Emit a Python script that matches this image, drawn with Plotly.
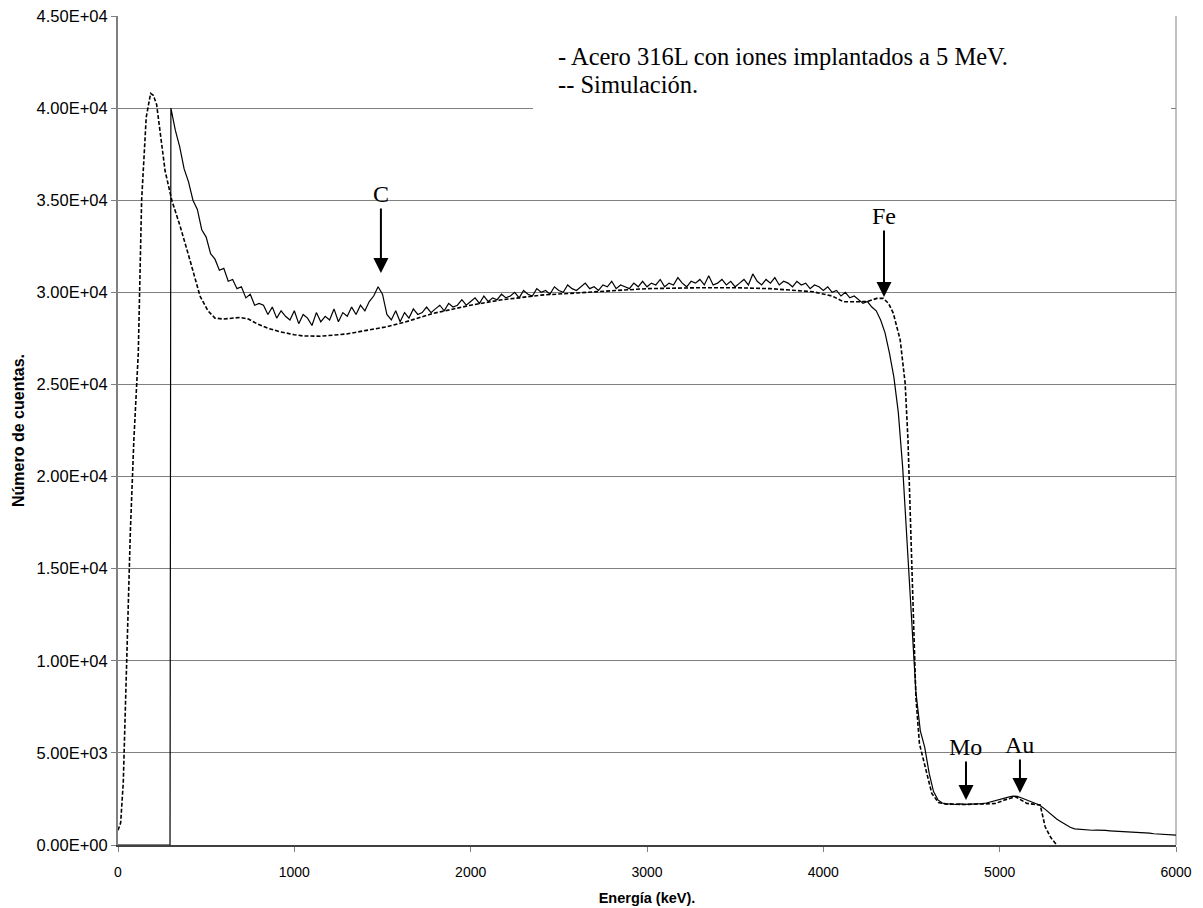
import plotly.graph_objects as go

# ---------------- data ----------------
# Experimental spectrum (solid): zero below threshold, then 25 keV channel grid
exp_head_E = [0, 295]
exp_head_C = [0, 0]
exp_E_start, exp_E_step = 300, 25
exp_counts = [
    # 300 - 500
    40000, 38800, 37900, 36700, 36000, 35000, 34500, 33400, 33000,
    # 525 - 800
    32100, 31800, 31200, 31300, 30600, 30700, 30200, 30300, 29700, 29900,
    29300, 29400,
    # 825 - 1300
    29300, 28800, 29200, 28600, 29000, 28700, 28500, 29000, 28300, 28800,
    28600, 28200, 28900, 28400, 28700, 28500, 29100, 28400, 28900, 28700,
    # 1325 - 1500
    29200, 28800, 29300, 29000, 29500, 29800, 30300, 29900,
    # 1525 - 2200
    28800, 28500, 29000, 28400, 28900, 28600, 29100, 28800, 28900, 29200,
    28900, 29100, 29300, 29000, 29400, 29200, 29300, 29600, 29300, 29500,
    29700, 29400, 29800, 29500, 29700, 29600, 29900, 29700,
    # 2225 - 3000
    29800, 30000, 29700, 30100, 29900, 29800, 30200, 30000, 30100, 29900,
    30300, 30100, 30000, 30400, 30200, 30100, 30300, 30500, 30200, 30300,
    30100, 30400, 30300, 30600, 30200, 30400, 30300, 30200, 30500, 30300,
    30600, 30300,
    # 3025 - 3800
    30500, 30400, 30700, 30300, 30500, 30400, 30800, 30500, 30300, 30600,
    30500, 30700, 30400, 30900, 30400, 30500, 30700, 30400, 30600, 30300,
    30500, 30700, 30400, 31000, 30600, 30400, 30700, 30500, 30800, 30400,
    30600, 30500,
    # 3825 - 4300
    30300, 30600, 30400, 30500, 30200, 30400, 30300, 30100, 30300, 30000,
    30100, 29800, 30000, 29700, 29800, 29600, 29400, 29500, 29200, 29000,
    # 4325 - 4700
    28500, 27800, 26700, 25400, 23500, 20500, 16500, 12000, 8300, 6200,
    5300, 3900, 2900, 2450, 2280, 2220,
    # 4725 - 6000
    2240, 2200, 2230, 2210, 2220, 2200, 2230, 2250, 2280, 2350,
    2420, 2480, 2550, 2600, 2650, 2640, 2550, 2450, 2350, 2250,
    2170, 2000, 1800, 1580, 1400, 1250, 1100, 960, 880, 850,
    830, 820, 800, 810, 780, 790, 770, 760, 750, 730,
    720, 700, 690, 660, 650, 640, 610, 600, 580, 560,
    550, 540,
]

# Simulation (dashed)
sim_E = [0, 15, 30, 50, 70, 90, 115, 134, 160, 185, 200, 219, 240, 267, 305,
         352, 408, 465, 510, 550, 600, 692, 740, 787, 850, 919, 1000, 1051,
         1150, 1297, 1400, 1524, 1650, 1789, 2000, 2167, 2400, 2696, 3000,
         3300, 3500, 3700, 3830, 3943, 4050, 4114, 4200, 4247, 4303, 4340,
         4370, 4397, 4436, 4464, 4480, 4495, 4510, 4525, 4545, 4577, 4615,
         4653, 4700, 4800, 4900, 4975, 5030, 5090, 5120, 5154, 5230, 5258,
         5290, 5324]
sim_C = [800, 1200, 3400, 10000, 17000, 22000, 26700, 35000, 39500, 40800,
         40700, 40200, 38500, 36600, 35000, 33600, 31750, 29800, 29000, 28600,
         28550, 28640, 28550, 28300, 28050, 27860, 27700, 27630, 27620, 27740,
         27920, 28130, 28450, 28860, 29300, 29580, 29850, 30030, 30200, 30250,
         30250, 30200, 30130, 30030, 29800, 29490, 29490, 29500, 29670, 29670,
         29400, 28860, 27410, 25060, 22000, 17000, 12000, 8000, 5500, 4250,
         2800, 2300, 2220, 2200, 2210, 2250, 2450, 2620, 2450, 2260, 2170,
         990, 400, 0]

y_tickvals = [0, 5000, 10000, 15000, 20000, 25000, 30000, 35000, 40000, 45000]
y_ticktext = ["0.00E+00", "5.00E+03", "1.00E+04", "1.50E+04", "2.00E+04",
              "2.50E+04", "3.00E+04", "3.50E+04", "4.00E+04", "4.50E+04"]
x_tickvals = [0, 1000, 2000, 3000, 4000, 5000, 6000]

legend_lines = ["- Acero 316L con iones implantados a 5 MeV.", "-- Simulación."]
peak_labels = ["C", "Fe", "Mo", "Au"]
peak_E = [1491, 4344, 4809, 5115]
peak_C = [31050, 29745, 2443, 2823]
label_offsets = [-79, -81, -53, -48]

# ---------------- figure ----------------
exp_E = exp_head_E + [exp_E_start + i * exp_E_step for i in range(len(exp_counts))]
exp_C = exp_head_C + exp_counts

fig = go.Figure()
fig.add_trace(go.Scatter(x=sim_E, y=sim_C, mode="lines",
                         line=dict(color="black", width=1.6, dash="4px,2px"),
                         showlegend=False, hoverinfo="skip"))
fig.add_trace(go.Scatter(x=exp_E, y=exp_C, mode="lines",
                         line=dict(color="black", width=1.2),
                         showlegend=False, hoverinfo="skip"))

serif = "Liberation Serif, Times New Roman, serif"
sans = "Liberation Sans, Arial, sans-serif"

# white text box covering part of the 4.0E+04 gridline
fig.add_shape(type="rect", xref="paper", yref="paper",
              x0=0.3922, x1=0.9953, y0=0.884, y1=0.977,
              fillcolor="white", line=dict(width=0), layer="above")

for i, t in enumerate(legend_lines):
    fig.add_annotation(xref="paper", yref="paper", x=0.4140,
                       y=[0.9515, 0.9175][i], text=t, showarrow=False,
                       xanchor="left", yanchor="middle",
                       font=dict(family=serif, size=24.5, color="black"))

for lab, ex, cy, off in zip(peak_labels, peak_E, peak_C, label_offsets):
    fig.add_annotation(x=ex, y=cy, xref="x", yref="y", text=lab,
                       showarrow=True, ax=0, ay=off, axref="pixel", ayref="pixel",
                       arrowhead=2, arrowwidth=2, arrowsize=1.5,
                       arrowcolor="black", standoff=0,
                       font=dict(family=serif, size=24, color="black"))

fig.update_layout(
    width=1203, height=908,
    margin=dict(l=118, r=27, t=16, b=63),
    paper_bgcolor="white", plot_bgcolor="white",
    font=dict(family=sans, size=14, color="black"),
)
fig.update_xaxes(range=[0, 6000], tickvals=x_tickvals, automargin=False,
                 ticks="outside", ticklen=5, tickcolor="#808080",
                 ticklabelstandoff=8,
                 showgrid=False, zeroline=False,
                 showline=True, linecolor="#404040", linewidth=2,
                 mirror=False,
                 tickfont=dict(family=sans, size=14, color="black"),
                 title=dict(text="<b>Energía (keV).</b>", standoff=14,
                            font=dict(family=sans, size=14.5, color="black")))
fig.update_yaxes(range=[0, 45000], tickvals=y_tickvals, ticktext=y_ticktext,
                 automargin=False,
                 ticks="outside", ticklen=5, tickcolor="#808080",
                 showgrid=True, gridcolor="#808080", gridwidth=1,
                 zeroline=False,
                 showline=True, linecolor="#808080", linewidth=2,
                 tickfont=dict(family=sans, size=16.5, color="black"),
                 title=dict(text="<b>Número de cuentas.</b>", standoff=8,
                            font=dict(family=sans, size=16, color="black")))
# right border of plot area
fig.add_shape(type="line", xref="paper", yref="paper", x0=1, x1=1, y0=0, y1=1,
              line=dict(color="#c0c0c0", width=2), layer="below")

fig.write_html("out.html")
